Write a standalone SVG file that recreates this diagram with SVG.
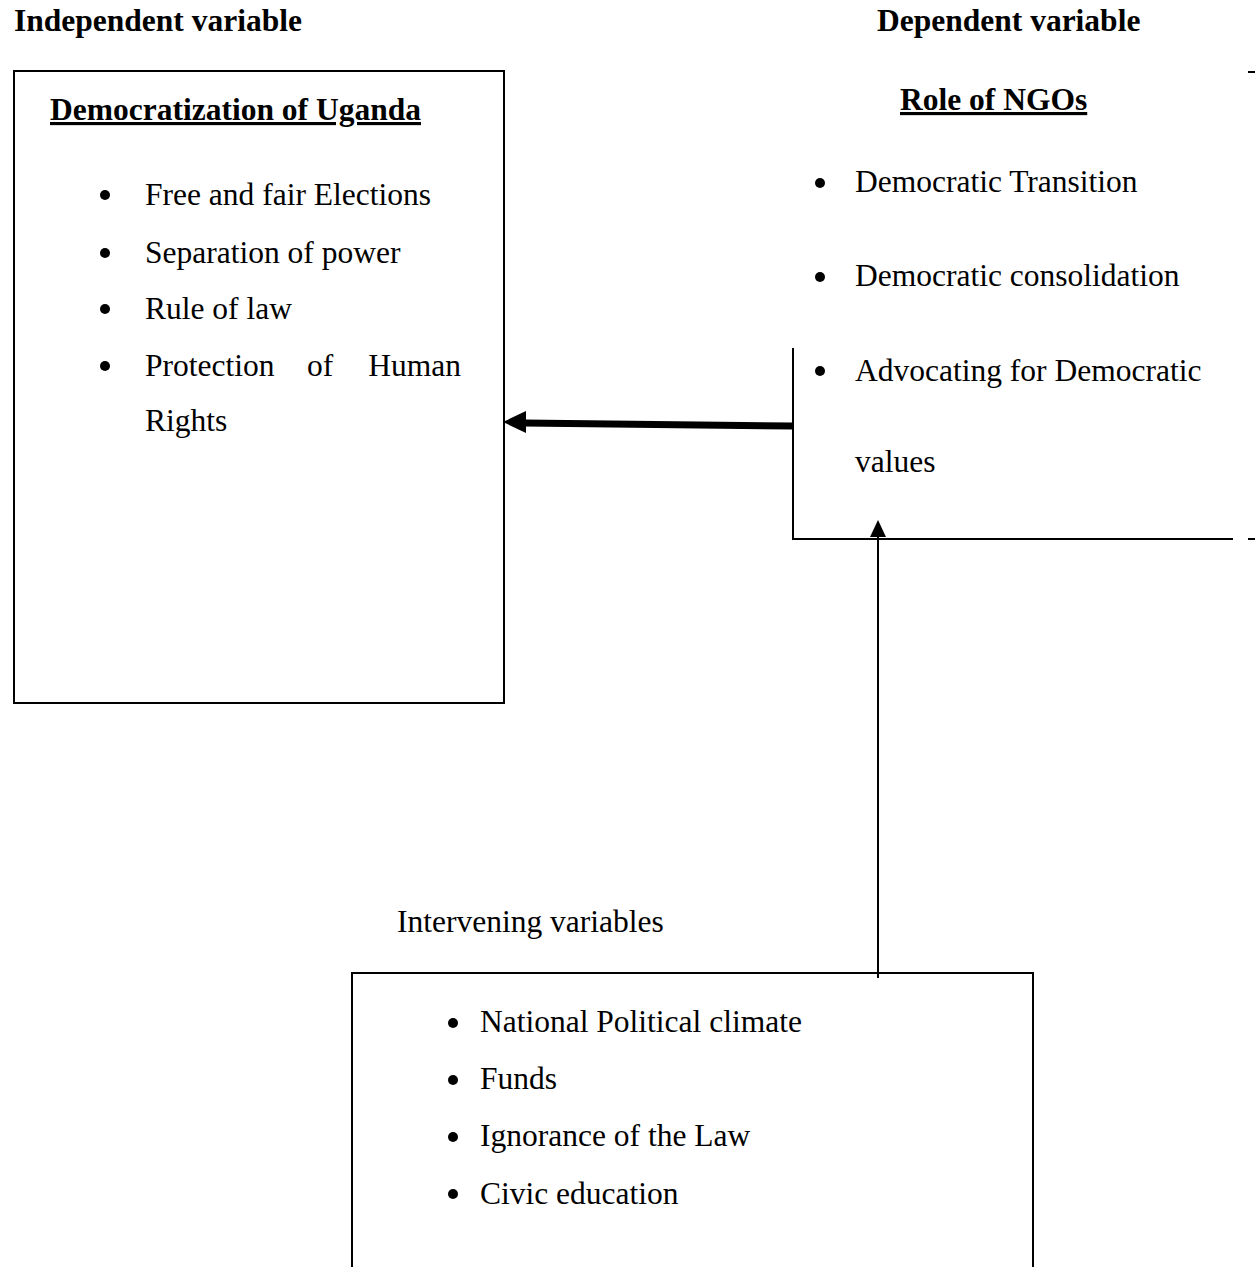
<svg xmlns="http://www.w3.org/2000/svg" width="1255" height="1267" viewBox="0 0 1255 1267">
<style>
text{font-family:"Liberation Serif","Times New Roman",serif;font-size:31.5px;fill:#000}
.b{font-weight:bold}
.u{text-decoration:underline}
.ln{stroke:#000;stroke-width:2;fill:none}
.dot{fill:#000}
</style>
<rect width="1255" height="1267" fill="#fff"/>
<text class="b" x="14" y="31">Independent variable</text>
<text class="b" x="877" y="31">Dependent variable</text>
<g id="democratization">
<rect class="ln" x="14" y="71" width="490" height="632" stroke-width="2.5"/>
<text class="b u" x="50" y="120">Democratization of Uganda</text>
<circle class="dot" cx="105" cy="195" r="5"/><text x="145" y="205">Free and fair Elections</text>
<circle class="dot" cx="105" cy="253" r="5"/><text x="145" y="263">Separation of power</text>
<circle class="dot" cx="105" cy="309" r="5"/><text x="145" y="319">Rule of law</text>
<circle class="dot" cx="105" cy="366" r="5"/><text x="145" y="376">Protection</text><text x="307" y="376">of</text><text x="461" y="376" text-anchor="end">Human</text>
<text x="145" y="431">Rights</text>
</g>
<g id="ngos">
<text class="b u" x="900" y="110">Role of NGOs</text>
<circle class="dot" cx="820" cy="183" r="5"/><text x="855" y="192">Democratic Transition</text>
<circle class="dot" cx="820" cy="277" r="5"/><text x="855" y="286">Democratic consolidation</text>
<circle class="dot" cx="820" cy="371" r="5"/><text x="855" y="381">Advocating for Democratic</text>
<text x="855" y="472">values</text>
<path class="ln" d="M793 348V540M792 539H1233M1248 72H1255M1248 539H1255"/>
</g>
<g id="intervening">
<text x="397" y="932">Intervening variables</text>
<path class="ln" d="M352 1267V973H1033V1267"/>
<circle class="dot" cx="453" cy="1023" r="5"/><text x="480" y="1032">National Political climate</text>
<circle class="dot" cx="453" cy="1080" r="5"/><text x="480" y="1089">Funds</text>
<circle class="dot" cx="453" cy="1137" r="5"/><text x="480" y="1146">Ignorance of the Law</text>
<circle class="dot" cx="453" cy="1194" r="5"/><text x="480" y="1204">Civic education</text>
</g>
<g id="connectors">
<path d="M793 426L524 423" stroke="#000" stroke-width="7" fill="none"/>
<polygon points="503,422 526,411 526,433" fill="#000"/>
<path d="M878 978V536" stroke="#000" stroke-width="2" fill="none"/>
<polygon points="878,520 870,537 886,537" fill="#000"/>
</g>
</svg>
